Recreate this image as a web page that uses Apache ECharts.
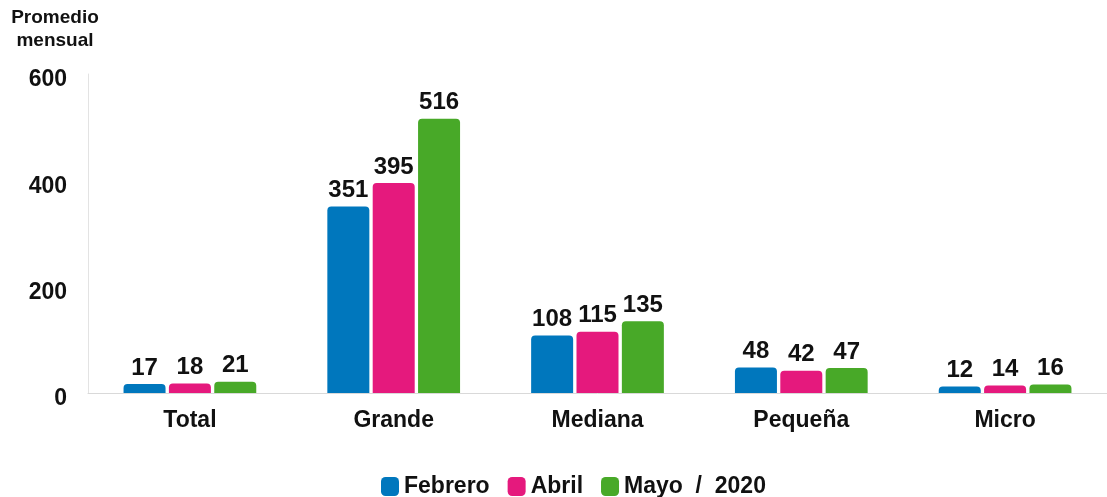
<!DOCTYPE html>
<html>
<head>
<meta charset="utf-8">
<script src="https://cdn.jsdelivr.net/npm/echarts@6/dist/echarts.min.js"></script>
<style>
  html, body { margin: 0; padding: 0; background: #fff; }
  #chart { width: 1107px; height: 497px; }
</style>
</head>
<body>
<div id="chart"></div>
<script>
// categories and monthly values (2020)
var categories = ['Total', 'Grande', 'Mediana', 'Pequeña', 'Micro'];
var febrero = [17, 351, 108, 48, 12];
var abril = [18, 395, 115, 42, 14];
var mayo = [21, 516, 135, 47, 16];
var yTicks = [0, 200, 400, 600];

var font = 'Liberation Sans, Arial, sans-serif';

function barSeries (name, data, color) {
  return {
    name: name,
    type: 'bar',
    data: data,
    barWidth: 42,
    barGap: '8%',
    itemStyle: {
      color: color,
      borderRadius: [4, 4, 0, 0]
    },
    label: {
      show: true,
      position: 'top',
      distance: 4,
      color: '#111',
      fontFamily: font,
      fontWeight: 'bold',
      fontSize: 24
    }
  };
}

var chart = echarts.init(document.getElementById('chart'));
chart.setOption({
  animation: false,
  grid: {
    left: 88,
    width: 1025,
    top: 74,
    bottom: 104
  },
  legend: {
    top: 475,
    left: 381,
    padding: 0,
    itemWidth: 18,
    itemHeight: 19,
    itemGap: 18,
    icon: 'roundRect',
    textStyle: {
      color: '#111',
      fontFamily: font,
      fontWeight: 'bold',
      fontSize: 23
    },
    formatter: function (name) {
      return name === 'Mayo' ? 'Mayo  /  2020' : name;
    },
    data: ['Febrero', 'Abril', 'Mayo']
  },
  xAxis: {
    type: 'category',
    data: categories,
    axisLine: { lineStyle: { color: '#d9d9d9' } },
    axisTick: { show: false },
    axisLabel: {
      color: '#111',
      fontFamily: font,
      fontWeight: 'bold',
      fontSize: 23,
      margin: 16
    }
  },
  yAxis: {
    type: 'value',
    min: yTicks[0],
    max: yTicks[yTicks.length - 1],
    interval: 200,
    name: 'Promedio\nmensual',
    nameLocation: 'end',
    nameGap: 22,
    nameTextStyle: {
      color: '#111',
      fontFamily: font,
      fontWeight: 'bold',
      fontSize: 19,
      lineHeight: 23,
      align: 'center',
      padding: [0, 66, 0, 0]
    },
    axisLine: { show: true, lineStyle: { color: '#e3e3e3' } },
    axisTick: { show: false },
    splitLine: { show: false },
    axisLabel: {
      color: '#111',
      fontFamily: font,
      fontWeight: 'bold',
      fontSize: 23,
      margin: 21,
      verticalAlign: 'top',
      lineHeight: 12
    }
  },
  series: [
    barSeries('Febrero', febrero, '#0077BD'),
    barSeries('Abril', abril, '#E5197D'),
    barSeries('Mayo', mayo, '#48A928')
  ]
});
</script>
</body>
</html>
